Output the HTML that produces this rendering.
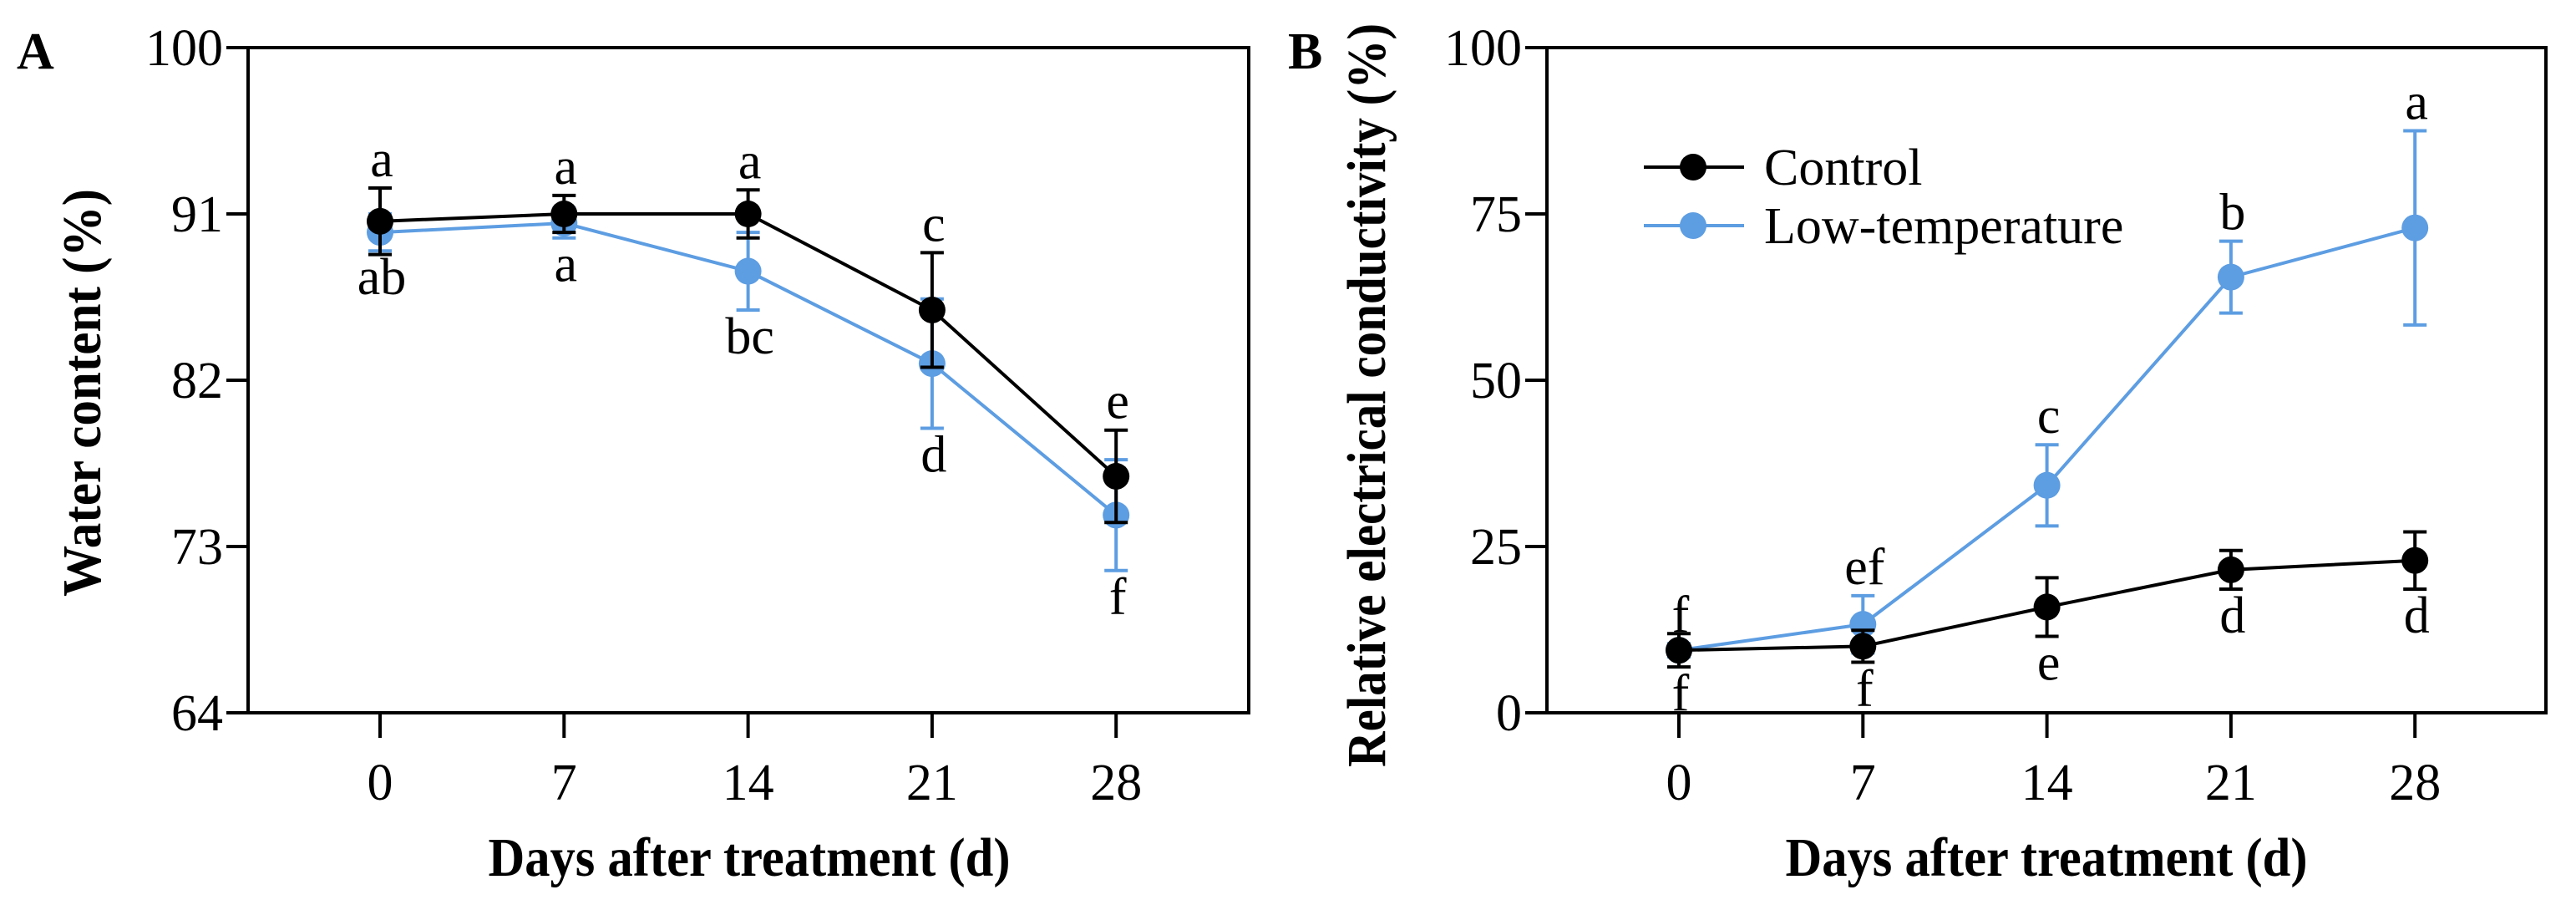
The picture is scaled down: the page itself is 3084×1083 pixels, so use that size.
<!DOCTYPE html>
<html><head><meta charset="utf-8"><style>
html,body{margin:0;padding:0;background:#fff;}
svg{display:block;font-family:"Liberation Serif","Times New Roman",serif;}
</style></head><body>
<svg id="fig" width="3084" height="1083" viewBox="0 0 3084 1083" xmlns="http://www.w3.org/2000/svg"></svg>
<script>
const days = [0, 7, 14, 21, 28];
const waterControl = [90.6, 91.0, 91.0, 85.8, 76.8];
const waterControlErr = [1.8, 1.0, 1.3, 3.1, 2.5];
const waterLow = [90.0, 90.5, 87.9, 82.9, 74.7];
const waterLowErr = [1.0, 0.8, 2.1, 3.5, 3.0];
const waterControlLetters = ["a", "a", "a", "c", "e"];
const waterLowLetters = ["ab", "a", "bc", "d", "f"];
const waterTicks = [64, 73, 82, 91, 100];
const recControl = [9.4, 10.0, 15.9, 21.5, 22.9];
const recControlErr = [2.5, 2.4, 4.4, 2.9, 4.3];
const recLow = [9.4, 13.3, 34.2, 65.5, 72.9];
const recLowErr = [1.0, 4.3, 6.1, 5.4, 14.6];
const recControlLetters = ["f", "f", "e", "d", "d"];
const recLowLetters = ["f", "ef", "c", "b", "a"];
const recTicks = [0, 25, 50, 75, 100];
const xTickLabels = ["0", "7", "14", "21", "28"];

const NS = "http://www.w3.org/2000/svg";
const svg = document.getElementById("fig");
const BLUE = "#5d9de2";
function mk(tag, attrs, parent) {
  const e = document.createElementNS(NS, tag);
  for (const k in attrs) e.setAttribute(k, attrs[k]);
  (parent || svg).appendChild(e);
  return e;
}
function txt(s, attrs, parent) { const e = mk("text", attrs, parent); e.textContent = s; return e; }

function panel(cfg) {
  const g = mk("g", {});
  
  
  const L = cfg.left, R = cfg.right, T = 57, B = 853;
  const xScale = d => cfg.x0 + (d - days[0]) / 7 * 220.3;
  const yScale = v => B - (v - cfg.ymin) / (cfg.ymax - cfg.ymin) * (B - T);
  const frame = mk("rect", {x: L, y: T, width: R - L, height: B - T, fill: "none", stroke: "#000", "stroke-width": 4}, g);
  
  
  cfg.ticks.forEach(t => {
    const y = yScale(t);
    const tk = mk("line", {x1: L - 26, x2: L, y1: y, y2: y, stroke: "#000", "stroke-width": 4}, g);
    
    
    const lb = txt(String(t), {x: L - 30, y: y + 21, "text-anchor": "end", "font-size": 62}, g);
    
    
  });
  days.forEach((d, i) => {
    const x = xScale(d);
    const tk = mk("line", {x1: x, x2: x, y1: B, y2: B + 30, stroke: "#000", "stroke-width": 4}, g);
    
    
    const lb = txt(xTickLabels[i], {x: x, y: 957, "text-anchor": "middle", "font-size": 62}, g);
    
    
  });
  const xt = txt("Days after treatment (d)", {x: cfg.xTitleX, y: 1048, "text-anchor": "middle", "font-size": 66, "font-weight": "bold", textLength: 625, lengthAdjust: "spacingAndGlyphs"}, g);
  
  
  const yt = txt(cfg.yTitle, {x: 0, y: 0, "text-anchor": "middle", "font-size": 66, "font-weight": "bold", textLength: cfg.yTitleLen, lengthAdjust: "spacingAndGlyphs", transform: `translate(${cfg.yTitleX},${cfg.yTitleY}) rotate(-90)`}, g);
  
  
  const pl = txt(cfg.label, {x: cfg.labelX, y: 82, "font-size": 62, "font-weight": "bold"}, g);
  
  

  function series(vals, errs, color, sname) {
    const sg = mk("g", {}, g);
    
    
    const pts = vals.map((v, i) => xScale(days[i]) + "," + yScale(v)).join(" ");
    const ln = mk("polyline", {points: pts, fill: "none", stroke: color, "stroke-width": 4}, sg);
    
    
    vals.forEach((v, i) => {
      const x = xScale(days[i]), y1 = yScale(v + errs[i]), y2 = yScale(v - errs[i]);
      const eb = mk("path", {d: `M${x},${y1}V${y2}M${x-14},${y1}H${x+14}M${x-14},${y2}H${x+14}`, stroke: color, "stroke-width": 4, fill: "none"}, sg);
      
      
    });
    vals.forEach((v, i) => {
      const c = mk("circle", {cx: xScale(days[i]), cy: yScale(v), r: 16, fill: color}, sg);
      
      
    });
  }
  function letters(vals, errs, labs, above) {
    labs.forEach((s, i) => {
      const x = xScale(days[i]);
      const y = above ? yScale(vals[i] + errs[i]) - 14 : yScale(vals[i] - errs[i]) + 52;
      const t = txt(s, {x: x + 2, y: y, "text-anchor": "middle", "font-size": 62}, g);
      
      
    });
  }
  cfg.draw(series, letters);
  return {xScale, yScale, g};
}

panel({name: "panel-a-water-content", left: 297, right: 1495, x0: 455, ymin: 64, ymax: 100, ticks: waterTicks,
  yTitle: "Water content (%)", yTitleX: 120, yTitleY: 470, yTitleLen: 488, xTitleX: 897, label: "A", labelX: 20,
  draw: (series, letters) => {
    series(waterLow, waterLowErr, BLUE, "low-temperature-series");
    series(waterControl, waterControlErr, "#000", "control-series");
    letters(waterControl, waterControlErr, waterControlLetters, true);
    letters(waterLow, waterLowErr, waterLowLetters, false);
  }});

const pb = panel({name: "panel-b-conductivity", left: 1852, right: 3048, x0: 2010, ymin: 0, ymax: 100, ticks: recTicks,
  yTitle: "Relative electrical conductivity (%)", yTitleX: 1658, yTitleY: 473, yTitleLen: 890, xTitleX: 2450, label: "B", labelX: 1542,
  draw: (series, letters) => {
    series(recLow, recLowErr, BLUE, "low-temperature-series");
    series(recControl, recControlErr, "#000", "control-series");
    letters(recLow, recLowErr, recLowLetters, true);
    letters(recControl, recControlErr, recControlLetters, false);
  }});

const lg = mk("g", {});


[["Control", "#000", 200], ["Low-temperature", BLUE, 270]].forEach(([s, c, y]) => {
  const e = mk("g", {}, lg);
  
  
  mk("line", {x1: 1968, x2: 2088, y1: y, y2: y, stroke: c, "stroke-width": 4}, e);
  mk("circle", {cx: 2027, cy: y, r: 16, fill: c}, e);
  txt(s, {x: 2112, y: y + 21, "font-size": 62}, e);
});
</script>
</body></html>
